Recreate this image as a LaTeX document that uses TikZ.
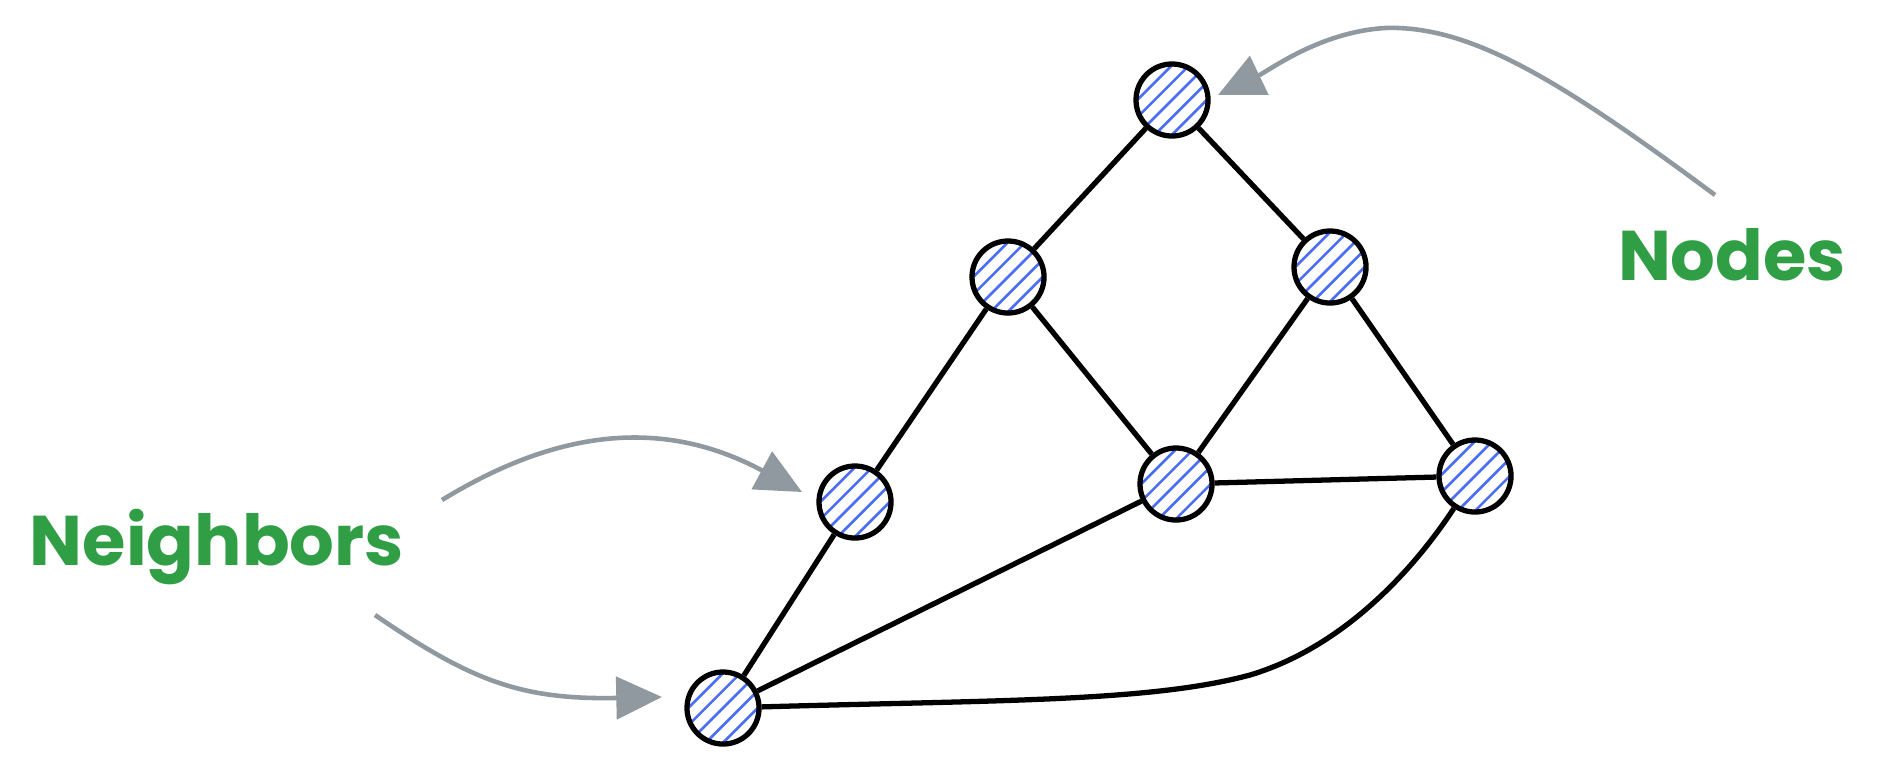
\documentclass[tikz,border=0pt]{standalone}
\usepackage{fontspec}
\newfontfamily\hand{Poppins}
\usetikzlibrary{arrows.meta}
\definecolor{hatchblue}{RGB}{76,110,245}
\definecolor{arrowgray}{RGB}{145,153,160}
\definecolor{labelgreen}{RGB}{47,158,68}
\begin{document}
\begin{tikzpicture}[x=0.01cm,y=-0.01cm,
  vertex/.style={circle, draw=black, line width=1.5pt, minimum size=0.72cm, inner sep=0pt, fill=white,
    path picture={\foreach \d in {-3,...,3}{\draw[hatchblue, line width=0.75pt, shift={(path picture bounding box.center)}] ({(\d)*0.087cm-0.4cm},{-0.4cm-(\d)*0.087cm}) -- ++(0.8cm,0.8cm);}}},
  link/.style={line width=1.5pt, black},
  callout/.style={arrowgray, line width=1.3pt, -{Triangle[length=13pt,width=12pt]}},
  greenlabel/.style={labelgreen, font=\hand\bfseries\fontsize{20}{24}\selectfont}]
\useasboundingbox (0,0) rectangle (1886,775);
\node[vertex] (top) at (1172,100) {};
\node[vertex] (lm) at (1008,277) {};
\node[vertex] (rm) at (1330,267) {};
\node[vertex] (ll) at (855,502) {};
\node[vertex] (ce) at (1176,484) {};
\node[vertex] (rl) at (1475,476) {};
\node[vertex] (bot) at (723,708) {};
\draw[link] (top) -- (lm);
\draw[link] (top) -- (rm);
\draw[link] (lm) -- (ll);
\draw[link] (lm) -- (ce);
\draw[link] (rm) -- (ce);
\draw[link] (rm) -- (rl);
\draw[link] (ll) -- (bot);
\draw[link] (bot) -- (ce);
\draw[link] (ce) -- (rl);
\draw[link] (bot) .. controls (1000,700) and (1150,702) .. (1250,675) .. controls (1350,645) and (1420,560) .. (rl);
\node[greenlabel] (nb) at (217,547) {Neighbors};
\node[greenlabel] (nd) at (1732,255) {Nodes};
\coordinate (a1s) at (1715,195);
\coordinate (a1e) at (1218,95);
\coordinate (a2s) at (442,500);
\coordinate (a2e) at (802,492);
\coordinate (a3s) at (375,615);
\coordinate (a3e) at (662,697);
\draw[callout] (a1s) .. controls (1560,80) and (1470,25) .. (1385,28) .. controls (1320,32) and (1270,70) .. (a1e);
\draw[callout] (a2s) .. controls (540,440) and (650,410) .. (a2e);
\draw[callout] (a3s) .. controls (470,680) and (520,700) .. (a3e);
\end{tikzpicture}
\end{document}
